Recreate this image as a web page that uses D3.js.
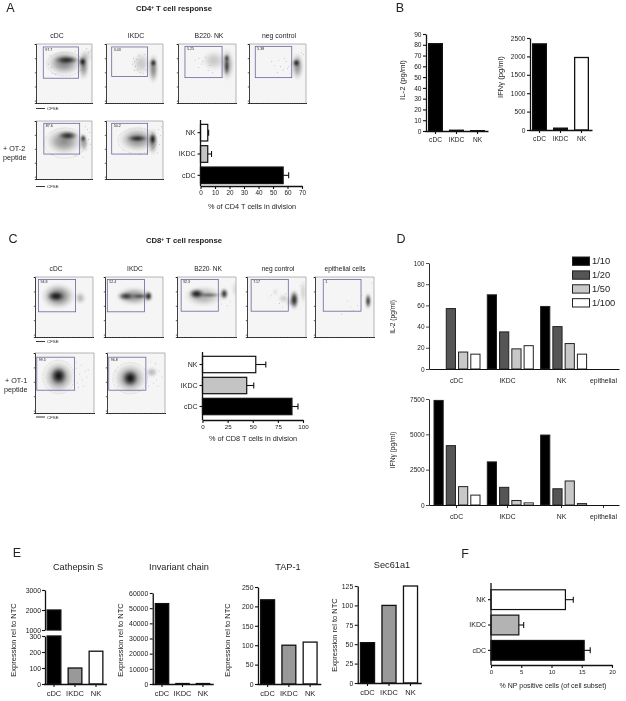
<!DOCTYPE html>
<html><head><meta charset="utf-8">
<script src="https://cdn.jsdelivr.net/npm/d3@7"></script>
<style>
html,body{margin:0;padding:0;background:#fff}
svg{display:block;filter:blur(.3px)}
text{font-family:"Liberation Sans",Arial,sans-serif;fill:#222}
</style></head><body><div id="c"></div>
<script>
// ---------- data ----------
const cats = ["cDC","IKDC","NK"];
const catsRev = ["NK","IKDC","cDC"];
const divisionCD4 = [5, 5, 57];
const divisionCD4Err = [5.6, 7.6, 60.8];
const il2B = [81, 0.7, 0.3];
const ifnB = [2340, 50, 1970];
const divisionCD8 = [53, 44, 89];
const divisionCD8Err = [63, 51, 95];
const dilutions = ["1/10","1/20","1/50","1/100"];
const groupsD = ["cDC","IKDC","NK","epithelial"];
const il2D = [[0,57,16,14],[70,35,19,22],[59,40,24,14],[0,0,0,0]];
const ifnD = [[7400,4200,1300,700],[3050,1250,320,150],[4950,1150,1700,100],[0,0,0,0]];
const cathepsin = [2000,100,205];
const invariant = [53000,300,300];
const tap1 = [217,100,108];
const sec61 = [52,100,125];
const npPositive = [12.3,4.6,15.4];
const npPositiveErr = [13.6,5.4,16.4];
// flow plots: blobs are [cfse%, signal%, spreadX, spreadY, density]; gate = [x0,y0,x1,y1]
const flowA1 = [
 {v:"97.7", gate:[13,5,76,58], contour:[[52,34,33,20]], blobs:[[50,32,32,22,.5],[55,27,24,7,.85],[83,30,7,8,1],[85,36,10,26,.5],[92,20,10,14,.12]],
  events:[[25,20],[28,40],[22,34],[30,50],[35,52],[90,8],[97,12],[94,15],[100,10],[70,12]]},
 {v:"3.03", gate:[10,5,73,55], contour:[], blobs:[[62,33,17,20,.2],[83,32,6,7,1],[83,42,9,26,.5]],
  events:[[48,24],[50,30],[52,38],[55,44],[46,34],[60,48],[65,50],[70,44],[54,26],[58,20],[68,18],[50,45]]},
 {v:"5.25", gate:[12,4,76,57], contour:[], blobs:[[62,28,22,18,.2],[84,24,4,7,1],[84,38,4,17,.9],[85,35,12,28,.38]],
  events:[[30,28],[35,40],[42,30],[48,22],[52,45],[40,34],[55,36],[36,24],[60,48]]},
 {v:"5.38", gate:[11,4,75,57], contour:[], blobs:[[83,32,7,7,1],[85,38,11,24,.45]],
  events:[[40,30],[45,36],[52,28],[55,38],[60,44],[65,30],[68,42],[72,50],[50,48],[62,24],[70,38],[92,15],[96,18],[74,34]]}
];
const flowA2 = [
 {v:"87.6", gate:[14,4,78,57], contour:[[52,38,37,26]], blobs:[[50,35,34,24,.45],[57,25,20,8,.85],[84,30,5,7,1],[85,38,9,16,.38]],
  events:[[92,15],[96,20],[90,50],[97,40],[84,62],[70,60],[30,58],[94,32],[88,10]]},
 {v:"50.2", gate:[10,4,73,57], contour:[[55,34,34,22]], blobs:[[55,32,34,22,.45],[55,30,20,6,.85],[82,31,6,10,1],[82,36,9,24,.5]],
  events:[[92,15],[96,25],[94,40],[90,55],[30,50],[42,56],[60,58],[72,58],[97,10]]}
];
const flowC1 = [
 {v:"94.8", gate:[6,4,70,58], contour:[], blobs:[[40,32,30,22,.55],[36,32,16,9,.9],[78,35,10,11,.28]], events:[]},
 {v:"52.4", gate:[4,4,68,58], contour:[], blobs:[[50,32,32,16,.45],[36,32,15,7,.8],[60,32,16,4,.7],[75,32,7,9,1]], events:[]},
 {v:"92.3", gate:[7,4,70,57], contour:[], blobs:[[45,32,34,18,.32],[33,28,14,9,.95],[55,30,22,3,.7],[80,28,7,10,.95],[98,20,5,14,.12]],
  events:[[70,50],[75,45],[85,48],[90,40]]},
 {v:"7.17", gate:[7,4,70,57], contour:[], blobs:[[80,38,8,17,.95],[62,36,10,8,.18],[48,25,4,6,.15],[95,25,5,22,.18],[72,42,7,8,.16],[38,33,2,3,.12]],
  events:[[42,30],[55,44],[66,28],[90,15],[60,50]]},
 {v:"1", gate:[14,4,78,57], contour:[], blobs:[[90,40,5,14,.95]],
  events:[[60,50],[65,56],[72,48],[55,40],[80,30],[96,10],[45,62]]}
];
const flowC2 = [
 {v:"99.5", gate:[3,7,67,62], contour:[[40,40,27,28]], blobs:[[40,40,27,28,.5],[40,38,14,15,.95]],
  events:[[70,25],[75,35],[80,45],[72,50],[85,30],[78,20],[88,40],[68,62],[74,58],[82,55],[70,15],[90,28]]},
 {v:"96.8", gate:[3,7,67,62], contour:[[40,42,30,26]], blobs:[[40,42,29,26,.5],[40,42,14,14,.95],[77,32,11,9,.28]],
  events:[[80,50],[85,45],[90,30],[72,55],[88,55],[20,55],[15,30],[95,40],[75,15],[84,18]]}
];

// ---------- helpers ----------
const svg = d3.select("#c").append("svg").attr("width",626).attr("height",701);
const defs = svg.append("defs");
const grad = defs.append("radialGradient").attr("id","dens");
[[0,1],[.4,.68],[.7,.25],[.9,.06],[1,0]].forEach(([o,a])=>grad.append("stop").attr("offset",o).attr("stop-color","#000").attr("stop-opacity",a));
defs.append("filter").attr("id","soft").attr("x","-20%").attr("y","-20%").attr("width","140%").attr("height","140%")
  .append("feGaussianBlur").attr("stdDeviation",0.9);
const fmt = d3.format("d");

function label(x,y,s,size,opt={}){
  const t=svg.append("text").attr("x",x).attr("y",y).attr("font-size",size).text(s)
    .attr("text-anchor",opt.anchor||"middle");
  if(opt.weight)t.attr("font-weight",opt.weight);
  if(opt.rotate)t.attr("transform",`rotate(-90 ${x} ${y})`);
  return t;
}
function styleAxis(g,size,w=1.3){
  g.selectAll("path.domain").attr("stroke","#111").attr("stroke-width",w);
  g.selectAll(".tick line").attr("stroke","#111").attr("stroke-width",w*0.85);
  g.selectAll("text").attr("font-size",size).attr("font-family",'"Liberation Sans",Arial,sans-serif').attr("fill","#222");
}
function flowPlot(p,x0,x1,y0,y1,id){
  const x=d3.scaleLinear([0,100],[x0,x1]), y=d3.scaleLinear([0,100],[y0,y1]);
  const g=svg.append("g");
  g.append("rect").attr("x",x0).attr("y",y0).attr("width",x1-x0).attr("height",y1-y0).attr("fill","#f6f5f6");
  defs.append("clipPath").attr("id",id).append("rect").attr("x",x0).attr("y",y0).attr("width",x1-x0).attr("height",y1-y0);
  const inner=g.append("g").attr("clip-path",`url(#${id})`);
  inner.append("g").selectAll("ellipse.c").data(p.contour).join("ellipse")
    .attr("cx",d=>x(d[0])).attr("cy",d=>y(d[1])).attr("rx",d=>x(d[2])-x(0)).attr("ry",d=>y(d[3])-y(0))
    .attr("fill","none").attr("stroke","#888").attr("stroke-width",.45).attr("stroke-dasharray",".6 1.2");
  inner.append("g").selectAll("circle").data(p.events).join("circle")
    .attr("cx",d=>x(d[0])).attr("cy",d=>y(d[1])).attr("r",.35).attr("fill","#666");
  inner.append("g").attr("filter","url(#soft)").selectAll("ellipse").data(p.blobs).join("ellipse")
    .attr("cx",d=>x(d[0])).attr("cy",d=>y(d[1])).attr("rx",d=>x(d[2])-x(0)).attr("ry",d=>y(d[3])-y(0))
    .attr("fill","url(#dens)").attr("opacity",d=>d[4]);
  g.append("path").attr("d",`M${x0},${y0}H${x1}V${y1}`).attr("fill","none").attr("stroke","#999").attr("stroke-width",.7);
  const ga=g.append("g").attr("transform",`translate(${x0},0)`).call(d3.axisLeft(y).tickValues([0,24,48,72,96]).tickSize(1.2).tickFormat(""));
  styleAxis(ga,0,.8);
  const gb=g.append("g").attr("transform",`translate(0,${y1})`).call(d3.axisBottom(x).tickValues(d3.range(0,101,4)).tickSize(1).tickFormat(""));
  styleAxis(gb,0,.8);
  g.append("rect").attr("x",x(p.gate[0])).attr("y",y(p.gate[1])).attr("width",x(p.gate[2])-x(p.gate[0])).attr("height",y(p.gate[3])-y(p.gate[1]))
    .attr("fill","none").attr("stroke","#6a679a").attr("stroke-width",.8);
  g.append("text").attr("x",x(p.gate[0])+2).attr("y",y(p.gate[1])+4).attr("font-size",3.6).text(p.v);
}
function cfse(x,y){
  svg.append("line").attr("x1",x).attr("x2",x+9).attr("y1",y).attr("y2",y).attr("stroke","#222").attr("stroke-width",.9);
  label(x+11,y+1.5,"CFSE",4.4,{anchor:"start"});
}
function vbars(c){
  const x=d3.scaleBand().domain(c.cats).range(c.xr).paddingInner(.29).paddingOuter(.145);
  const y=d3.scaleLinear(c.domain,c.yr);
  const g=svg.append("g");
  g.selectAll("rect").data(c.values).join("rect")
    .attr("x",(d,i)=>x(c.cats[i])+.6).attr("width",x.bandwidth()-1.2)
    .attr("y",d=>y(d)).attr("height",d=>Math.max(0,y(0)-y(d)))
    .attr("fill",(d,i)=>c.fills[i]).attr("stroke","#111").attr("stroke-width",1.3);
  const ay=g.append("g").attr("transform",`translate(${c.xr[0]+1},0)`).call(d3.axisLeft(y).tickValues(c.ticks).tickFormat(fmt).tickSize(3).tickSizeOuter(0).tickPadding(1.5));
  styleAxis(ay,c.fs);
  const ax=g.append("g").attr("transform",`translate(0,${c.yr[0]})`).call(d3.axisBottom(x).tickSize(3).tickSizeOuter(0).tickPadding(c.pad||3));
  styleAxis(ax,c.fsCat||c.fs);
}
function hbars(c){
  const y=d3.scaleBand().domain(catsRev).range(c.yr).paddingInner(.22).paddingOuter(.11);
  const x=d3.scaleLinear(c.domain,c.xr);
  const g=svg.append("g");
  const rows=g.selectAll("g.r").data(c.values).join("g");
  rows.append("line").attr("y1",(d,i)=>y(catsRev[i])+y.bandwidth()/2).attr("y2",(d,i)=>y(catsRev[i])+y.bandwidth()/2)
    .attr("x1",d=>x(d)).attr("x2",(d,i)=>x(c.err[i])).attr("stroke","#111").attr("stroke-width",1.1);
  rows.append("line").attr("y1",(d,i)=>y(catsRev[i])+y.bandwidth()/2-3).attr("y2",(d,i)=>y(catsRev[i])+y.bandwidth()/2+3)
    .attr("x1",(d,i)=>x(c.err[i])).attr("x2",(d,i)=>x(c.err[i])).attr("stroke","#111").attr("stroke-width",1.1);
  rows.append("rect").attr("x",x(0)).attr("y",(d,i)=>y(catsRev[i])).attr("height",y.bandwidth())
    .attr("width",d=>x(d)-x(0)).attr("fill",(d,i)=>c.fills[i]).attr("stroke","#111").attr("stroke-width",1.2);
  const ax=g.append("g").attr("transform",`translate(0,${c.axisY})`).call(d3.axisBottom(x).tickValues(c.ticks).tickFormat(fmt).tickSize(3).tickSizeOuter(0).tickPadding(1.5));
  styleAxis(ax,c.fs);
  const ay=g.append("g").attr("transform",`translate(${c.xr[0]},0)`);
  ay.call(d3.axisLeft(y).tickSize(3).tickSizeOuter(0).tickPadding(2));
  ay.select("path.domain").attr("d",`M0,${c.axisTop}V${c.axisY}`);
  styleAxis(ay,c.fsCat);
}
function groupBars(c){
  const gx=d3.scaleBand().domain(groupsD).range([434,434+4*53.3]);
  const sx=d3.scaleBand().domain(dilutions).range([0,46]).paddingInner(.25);
  const y=d3.scaleLinear(c.domain,c.yr);
  const fills=d3.scaleOrdinal(dilutions,["#000","#555","#c8c8c8","#fff"]);
  const labelX=d3.scaleOrdinal(groupsD,[456,507,561,603]);
  const g=svg.append("g");
  c.values.forEach((vals,i)=>{
    const rows=vals.map((v,j)=>({v,k:dilutions[j]})).filter(d=>d.v>0);
    g.append("g").selectAll("rect").data(rows)
      .join("rect").attr("x",d=>gx(groupsD[i])+sx(d.k)).attr("width",sx.bandwidth())
      .attr("y",d=>y(d.v)).attr("height",d=>y(0)-y(d.v)).attr("fill",d=>fills(d.k))
      .attr("stroke","#222").attr("stroke-width",1);
  });
  const ay=g.append("g").attr("transform","translate(429,0)").call(d3.axisLeft(y).tickValues(c.ticks).tickFormat(fmt).tickSize(3).tickSizeOuter(0).tickPadding(1.5));
  styleAxis(ay,6.5,.9);
  const xl=d3.scaleLinear([429,619],[429,619]);
  const ax=g.append("g").attr("transform",`translate(0,${c.yr[0]})`).call(d3.axisBottom(xl).tickValues(groupsD.map(labelX)).tickSize(c.tick).tickSizeOuter(0).tickFormat((d,i)=>groupsD[i]).tickPadding(c.pad));
  styleAxis(ax,6.8,1);
}

// ---------- A ----------
label(10.5,12,"A",12.5);
const tA=label(174,11,"CD4",7.7,{weight:"bold"});
tA.append("tspan").attr("font-size",4.6).attr("dy",-2).text("+");
tA.append("tspan").attr("dy",2).text(" T cell response");
[[57,"cDC"],[136,"IKDC"],[279,"neg control"]].forEach(d=>label(d[0],38,d[1],6.9));
const b220A=label(209,38,"B220",6.9); b220A.append("tspan").attr("font-size",4).attr("dy",-1.5).text("-"); b220A.append("tspan").attr("dy",1.5).text(" NK");
const colsA=[[36,92],[106,163],[178,236],[249,306]];
flowA1.forEach((p,i)=>flowPlot(p,colsA[i][0],colsA[i][1],44,103,"a1"+i));
flowA2.forEach((p,i)=>flowPlot(p,colsA[i][0],colsA[i][1],121,179,"a2"+i));
cfse(36,108.5); cfse(36,186.5);
label(3,151,"+ OT-2",7.2,{anchor:"start"}); label(3,160,"peptide",7.2,{anchor:"start"});
hbars({values:divisionCD4,err:divisionCD4Err,fills:["#fff","#c4c4c4","#000"],domain:[0,70],xr:[200.5,302],yr:[122,186],axisY:186,axisTop:120,ticks:d3.range(0,71,10),fs:6.4,fsCat:7});
label(252,209,"% of CD4 T cells in division",7.3);

// ---------- B ----------
label(400,12,"B",12.5);
vbars({cats,values:il2B,fills:["#000","#000","#000"],domain:[0,90],yr:[131,34],xr:[425,488],ticks:d3.range(0,91,10),fs:6.6});
label(405,80,"IL-2 (pg/ml)",7.8,{rotate:true});
vbars({cats,values:ifnB,fills:["#000","#000","#fff"],domain:[0,2500],yr:[130,38],xr:[529,592],ticks:d3.range(0,2501,500),fs:6.6});
label(503,77,"IFNγ (pg/ml)",7.6,{rotate:true});

// ---------- C ----------
label(13,243,"C",12.5);
const tC=label(184,243,"CD8",7.7,{weight:"bold"});
tC.append("tspan").attr("font-size",4.6).attr("dy",-2).text("+");
tC.append("tspan").attr("dy",2).text(" T cell response");
[[56,"cDC"],[135,"IKDC"],[278,"neg control"],[345,"epithelial cells"]].forEach(d=>label(d[0],271,d[1],6.6));
const b220C=label(208,271,"B220",6.6); b220C.append("tspan").attr("font-size",4).attr("dy",-1.5).text("-"); b220C.append("tspan").attr("dy",1.5).text(" NK");
const colsC=[[35,93],[105,163],[177,236],[247,306],[315,374]];
flowC1.forEach((p,i)=>flowPlot(p,colsC[i][0],colsC[i][1],277,337,"c1"+i));
const colsC2=[[35,94],[107,165]];
flowC2.forEach((p,i)=>flowPlot(p,colsC2[i][0],colsC2[i][1],353,413,"c2"+i));
cfse(36,341.5); cfse(36,417);
label(5,383,"+ OT-1",7.2,{anchor:"start"}); label(4,392,"peptide",7.2,{anchor:"start"});
hbars({values:divisionCD8,err:divisionCD8Err,fills:["#fff","#c4c4c4","#000"],domain:[0,100],xr:[202.5,303],yr:[354,417],axisY:420,axisTop:352,ticks:d3.range(0,101,25),fs:6.2,fsCat:7});
label(253,441,"% of CD8 T cells in division",7.3);

// ---------- D ----------
label(401,243,"D",12.5);
groupBars({values:il2D,domain:[0,100],yr:[369,263],ticks:d3.range(0,101,20),tick:0,pad:9});
label(395,317,"IL-2 (pg/ml)",6.6,{rotate:true});
groupBars({values:ifnD,domain:[0,7500],yr:[505,399],ticks:[0,2500,5000,7500],tick:3,pad:6});
label(395,450,"IFNγ (pg/ml)",6.6,{rotate:true});
const legY=d3.scaleBand().domain(dilutions).range([257,307]).paddingInner(.4);
const legFill=d3.scaleOrdinal(dilutions,["#000","#555","#c8c8c8","#fff"]);
svg.append("g").selectAll("rect").data(dilutions).join("rect")
  .attr("x",572.5).attr("width",17).attr("y",d=>legY(d)).attr("height",legY.bandwidth())
  .attr("fill",d=>legFill(d)).attr("stroke","#222").attr("stroke-width",1);
dilutions.forEach(d=>label(592,legY(d)+legY.bandwidth()/2+3.3,d,9.3,{anchor:"start"}));

// ---------- E ----------
label(17,557,"E",12.5);
[[78,"Cathepsin S",570],[179,"Invariant chain",570],[288,"TAP-1",570],[392,"Sec61a1",568]].forEach(d=>label(d[0],d[2],d[1],9.2));
const cathX=d3.scaleBand().domain(cats).range([43.5,106.5]).paddingInner(.29).paddingOuter(.145);
const cathLow=d3.scaleLinear([0,300],[684,636]);
const cathHigh=d3.scaleLinear([1000,3000],[630,590]);
const cg=svg.append("g");
cg.selectAll("rect.low").data(cathepsin).join("rect")
  .attr("x",(d,i)=>cathX(cats[i])+.6).attr("width",cathX.bandwidth()-1.2)
  .attr("y",d=>cathLow(Math.min(d,300))).attr("height",d=>684-cathLow(Math.min(d,300)))
  .attr("fill",(d,i)=>["#000","#999","#fff"][i]).attr("stroke","#111").attr("stroke-width",1.3);
cg.selectAll("rect.high").data(cathepsin.filter(d=>d>1000)).join("rect")
  .attr("x",cathX("cDC")+.6).attr("width",cathX.bandwidth()-1.2)
  .attr("y",d=>cathHigh(d)).attr("height",d=>cathHigh(1000)-cathHigh(d)).attr("fill","#000").attr("stroke","#111").attr("stroke-width",1.3);
styleAxis(cg.append("g").attr("transform","translate(45,0)").call(d3.axisLeft(cathLow).tickValues([0,100,200,300]).tickFormat(fmt).tickSize(3).tickSizeOuter(0).tickPadding(1)),6.9);
styleAxis(cg.append("g").attr("transform","translate(45,0)").call(d3.axisLeft(cathHigh).tickValues([1000,2000,3000]).tickFormat(fmt).tickSize(3).tickSizeOuter(0).tickPadding(1)),6.9);
styleAxis(cg.append("g").attr("transform","translate(0,684)").call(d3.axisBottom(cathX).tickSize(3).tickSizeOuter(0).tickPadding(4)),7.5);
label(16,640,"Expression rel to NTC",7.5,{rotate:true});
vbars({cats,values:invariant,fills:["#000","#999","#fff"],domain:[0,60000],yr:[684,593],xr:[151.75,213.25],ticks:d3.range(0,60001,10000),fs:6.9,fsCat:7.5,pad:4});
label(123,640,"Expression rel to NTC",7.5,{rotate:true});
vbars({cats,values:tap1,fills:["#000","#999","#fff"],domain:[0,250],yr:[684,587],xr:[257,320.75],ticks:d3.range(0,251,50),fs:6.9,fsCat:7.5,pad:4});
label(230,640,"Expression rel to NTC",7.5,{rotate:true});
vbars({cats,values:sec61,fills:["#000","#999","#fff"],domain:[0,125],yr:[683,586],xr:[356.75,421.25],ticks:d3.range(0,126,25),fs:6.9,fsCat:7.5,pad:4});
label(337,635,"Expression rel to NTC",7.5,{rotate:true});

// ---------- F ----------
label(465,558,"F",12.5);
hbars({values:npPositive,err:npPositiveErr,fills:["#fff","#b3b3b3","#000"],domain:[0,20],xr:[491,612],yr:[587,663],axisY:665,axisTop:583,ticks:d3.range(0,21,5),fs:6,fsCat:7});
label(553,688,"% NP positive cells (of cell subset)",7);
</script></body></html>
